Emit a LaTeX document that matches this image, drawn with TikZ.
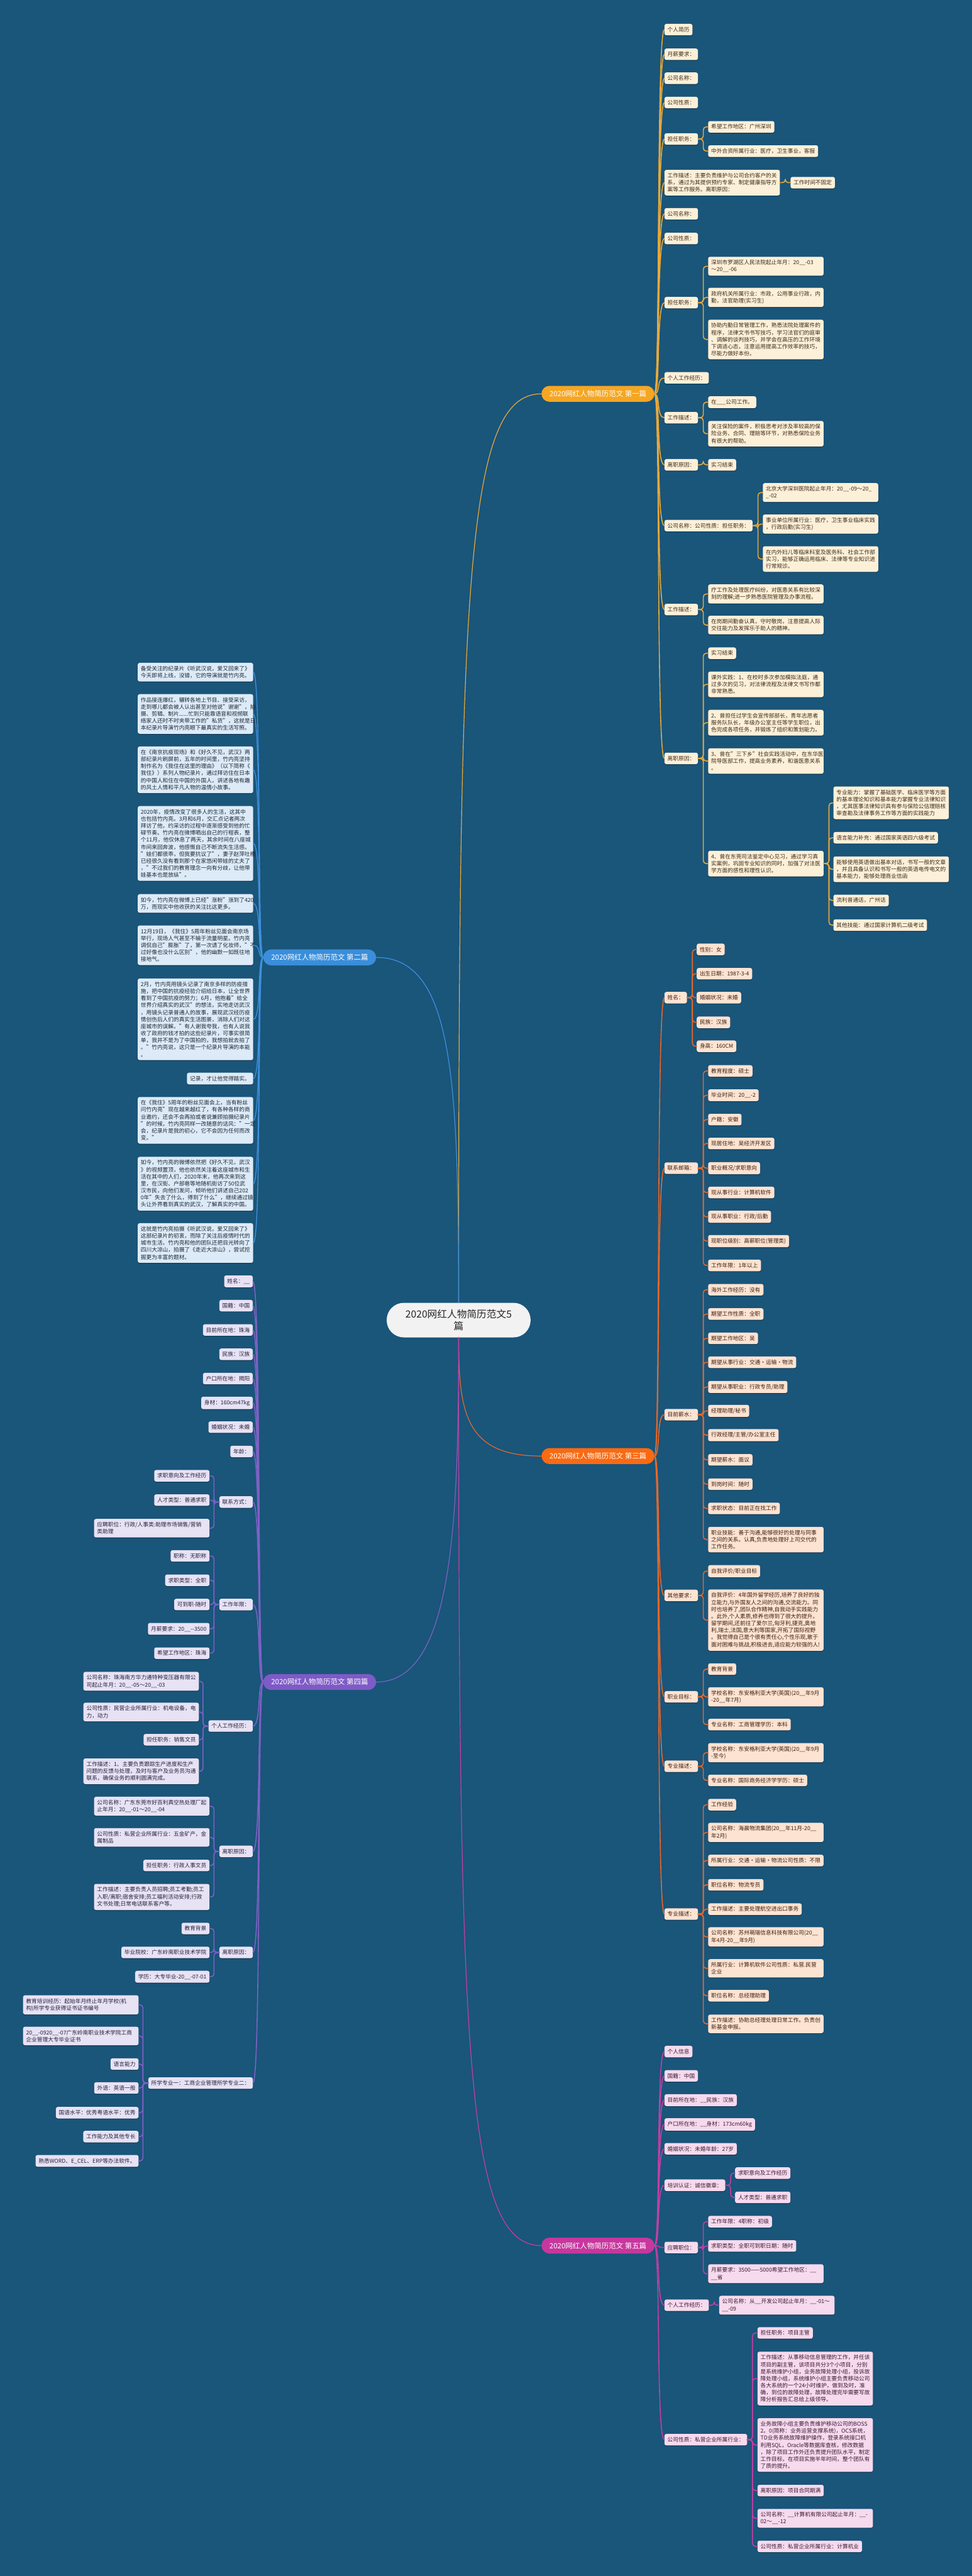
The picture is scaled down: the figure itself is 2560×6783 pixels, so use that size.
\documentclass[tikz,border=0pt]{standalone}
\usepackage{fontspec}
\setmainfont{Noto Sans CJK SC}
\usetikzlibrary{shadows}
\definecolor{bgblue}{HTML}{1A557A}
\definecolor{rootfill}{HTML}{F2F2F2}
\definecolor{onefill}{HTML}{F5A623}
\definecolor{oneline}{HTML}{E9A93A}
\definecolor{oneleaf}{HTML}{FDF0D8}
\definecolor{onetext}{HTML}{3B2A18}
\definecolor{twofill}{HTML}{3A8EDA}
\definecolor{twoline}{HTML}{3E91DD}
\definecolor{twoleaf}{HTML}{DDEBF8}
\definecolor{twotext}{HTML}{1D2733}
\definecolor{threefill}{HTML}{FA6A12}
\definecolor{threeline}{HTML}{E5682A}
\definecolor{threeleaf}{HTML}{FDE3D2}
\definecolor{threetext}{HTML}{3B1E10}
\definecolor{fourfill}{HTML}{7E5BC6}
\definecolor{fourline}{HTML}{7D62C4}
\definecolor{fourleaf}{HTML}{E7E2F4}
\definecolor{fourtext}{HTML}{24203A}
\definecolor{fivefill}{HTML}{C7379E}
\definecolor{fiveline}{HTML}{C33FA3}
\definecolor{fiveleaf}{HTML}{F6DAEE}
\definecolor{fivetext}{HTML}{3B1830}
\tikzset{
	leaf/.style={rounded corners=5pt, inner xsep=8pt, inner ysep=8.5pt, align=left, font=\fontsize{14.4}{18.5}\selectfont, drop shadow={shadow xshift=0pt, shadow yshift=-2pt, opacity=0.3, fill=black}},
	wbox/.style={text width=288pt},
	leafone/.style={leaf, fill=oneleaf, text=onetext, anchor=west},
	leaftwo/.style={leaf, fill=twoleaf, text=twotext, anchor=east},
	leafthree/.style={leaf, fill=threeleaf, text=threetext, anchor=west},
	leaffour/.style={leaf, fill=fourleaf, text=fourtext, anchor=east},
	leaffive/.style={leaf, fill=fiveleaf, text=fivetext, anchor=west},
	branch/.style={rounded corners=21pt, minimum height=42pt, inner xsep=21pt, text=white, font=\fontsize{19}{22}\selectfont},
	root/.style={fill=rootfill, rounded corners=45pt, minimum width=379pt, minimum height=91pt, align=center, text=black!85, font=\fontsize{26}{32}\selectfont},
	linkone/.style={draw=oneline, line width=2.6pt, line cap=round},
	linktwo/.style={draw=twoline, line width=2.2pt, line cap=round},
	linkthree/.style={draw=threeline, line width=2.6pt, line cap=round},
	linkfour/.style={draw=fourline, line width=2.6pt, line cap=round},
	linkfive/.style={draw=fiveline, line width=2.6pt, line cap=round},
	bracket/.style={rounded corners=8pt}
}
\begin{document}
\begin{tikzpicture}[x=1pt,y=-1pt]
	\useasboundingbox (0,0) rectangle (2560,6783);
	\fill[bgblue] (0,0) rectangle (2560,6783);

	\node[root] (root) at (1208,3476) {2020网红人物简历范文5\\篇};
	\node[branch, fill=onefill] (b1) at (1575,1037) {2020网红人物简历范文 第一篇};
	\node[branch, fill=twofill] (b2) at (842,2521) {2020网红人物简历范文 第二篇};
	\node[branch, fill=threefill] (b3) at (1575,3834) {2020网红人物简历范文 第三篇};
	\node[branch, fill=fourfill] (b4) at (842,4429) {2020网红人物简历范文 第四篇};
	\node[branch, fill=fivefill] (b5) at (1575,5913) {2020网红人物简历范文 第五篇};

	\draw[linkone, line width=2pt] (root.north) .. controls +(0,-1900) and +(-200,0) .. (b1.west);
	\draw[linktwo, line width=2pt] (root.north) .. controls +(0,-600) and +(200,0) .. (b2.east);
	\draw[linkthree, line width=2pt] (root.south) .. controls +(0,200) and +(-200,0) .. (b3.west);
	\draw[linkfour, line width=2pt] (root.south) .. controls +(0,500) and +(200,0) .. (b4.east);
	\draw[linkfive, line width=2pt] (root.south) .. controls +(0,1900) and +(-200,0) .. (b5.west);

	% 第一篇
	\node[leafone] (p1n1) at (1750,78) {个人简历};
	\node[leafone] (p1n2) at (1750,143) {月薪要求：};
	\node[leafone] (p1n3) at (1750,206) {公司名称：};
	\node[leafone] (p1n4) at (1750,270) {公司性质：};
	\node[leafone] (p1n5) at (1750,366) {担任职务：};
	\node[leafone] (p1n5a) at (1865,334) {希望工作地区：广州深圳};
	\node[leafone] (p1n5b) at (1865,398) {中外合资所属行业：医疗，卫生事业，客服};
	\node[leafone, wbox] (p1n6) at (1750,481) {工作描述：主要负责维护与公司合约客户的关\\系，通过为其提供预约专家、制定健康指导方\\案等工作服务。离职原因：};
	\node[leafone] (p1n6a) at (2082,481) {工作时间不固定};
	\node[leafone] (p1n7) at (1750,563) {公司名称：};
	\node[leafone] (p1n8) at (1750,628) {公司性质：};
	\node[leafone] (p1n9) at (1750,797) {担任职务：};
	\node[leafone, wbox] (p1n9a) at (1865,701) {深圳市罗湖区人民法院起止年月：20\_\_-03\\～20\_\_-06};
	\node[leafone, wbox] (p1n9b) at (1865,783) {政府机关所属行业：市政，公用事业行政，内\\勤，法官助理(实习生)};
	\node[leafone, wbox] (p1n9c) at (1865,894) {协助内勤日常管理工作，熟悉法院处理案件的\\程序，法律文书书写技巧，学习法官们的庭审\\、调解的谈判技巧，并学会在高压的工作环境\\下调适心态，注意运用提高工作效率的技巧，\\尽能力做好本份。};
	\node[leafone] (p1n10) at (1750,995) {个人工作经历：};
	\node[leafone] (p1n11) at (1750,1100) {工作描述：};
	\node[leafone] (p1n11a) at (1865,1059) {在\_\_\_公司工作。};
	\node[leafone, wbox] (p1n11b) at (1865,1142) {关注保险的案件，积极思考对涉及率较高的保\\险业务、合同、理赔等环节，对熟悉保险业务\\有很大的帮助。};
	\node[leafone] (p1n12) at (1750,1224) {离职原因：};
	\node[leafone] (p1n12a) at (1865,1224) {实习结束};
	\node[leafone] (p1n13) at (1750,1384) {公司名称：公司性质：担任职务：};
	\node[leafone, wbox] (p1n13a) at (2009,1297) {北京大学深圳医院起止年月：20\_\_-09～20\_\\\_-02};
	\node[leafone, wbox] (p1n13b) at (2009,1380) {事业单位所属行业：医疗，卫生事业临床实践\\，行政后勤(实习生)};
	\node[leafone, wbox] (p1n13c) at (2009,1472) {在内外妇儿等临床科室及医务科、社会工作部\\实习，能够正确运用临床、法律等专业知识进\\行常规诊。};
	\node[leafone] (p1n14) at (1750,1605) {工作描述：};
	\node[leafone, wbox] (p1n14a) at (1865,1564) {疗工作及处理医疗纠纷，对医患关系有比较深\\刻的理解;进一步熟悉医院管理及办事流程。};
	\node[leafone, wbox] (p1n14b) at (1865,1646) {在岗期间勤奋认真，守时敬岗，注意提高人际\\交往能力及发挥乐于助人的精神。};
	\node[leafone] (p1n15) at (1750,1997) {离职原因：};
	\node[leafone] (p1n15a) at (1865,1720) {实习结束};
	\node[leafone, wbox] (p1n15b) at (1865,1802) {课外实践：1、在校时多次参加模拟法庭，通\\过多次的见习，对法律流程及法律文书写作都\\非常熟悉。};
	\node[leafone, wbox] (p1n15c) at (1865,1903) {2、曾担任过学生会宣传部部长，青年志愿者\\服务队队长，年级办公室主任等学生职位，出\\色完成各项任务，并锻炼了组织和策划能力。};
	\node[leafone, wbox] (p1n15d) at (1865,2004) {3、曾在"三下乡"社会实践活动中，在东华医\\院导医部工作，提高业务素养，和谐医患关系\\。};
	\node[leafone, wbox] (p1n15e) at (1865,2274) {4、曾在东莞司法鉴定中心见习，通过学习真\\实案例，巩固专业知识的同时，加强了对法医\\学方面的感性和理性认识。};
	\node[leafone, wbox] (p1n15e1) at (2195,2114) {专业能力：掌握了基础医学、临床医学等方面\\的基本理论知识和基本能力掌握专业法律知识\\，尤其医事法律知识具有参与保险公估理赔核\\审查勘及法律事务工作等方面的实践能力};
	\node[leafone] (p1n15e2) at (2195,2206) {语言能力补充：通过国家英语四六级考试};
	\node[leafone, wbox] (p1n15e3) at (2195,2289) {能够使用英语做出基本对话，书写一般的文章\\，并且具备认识和书写一般的英语电传电文的\\基本能力，能够处理商业信函};
	\node[leafone] (p1n15e4) at (2195,2371) {流利普通话，广州话};
	\node[leafone] (p1n15e5) at (2195,2436) {其他技能：通过国家计算机二级考试};

	\foreach \k in {p1n1,p1n2,p1n3,p1n4,p1n5,p1n6,p1n7,p1n8,p1n9,p1n10,p1n11,p1n12,p1n13,p1n14,p1n15}
		\draw[linkone] (b1.east) .. controls +(16,0) and +(-22,0) .. (\k.west);
	\foreach \p/\k in {p1n5/p1n5a,p1n5/p1n5b,p1n6/p1n6a,p1n9/p1n9a,p1n9/p1n9b,p1n9/p1n9c,p1n11/p1n11a,p1n11/p1n11b,p1n12/p1n12a,p1n13/p1n13a,p1n13/p1n13b,p1n13/p1n13c,p1n14/p1n14a,p1n14/p1n14b,p1n15/p1n15a,p1n15/p1n15b,p1n15/p1n15c,p1n15/p1n15d,p1n15/p1n15e,p1n15e/p1n15e1,p1n15e/p1n15e2,p1n15e/p1n15e3,p1n15e/p1n15e4,p1n15e/p1n15e5}
		\draw[linkone, bracket] (\p.east) -- ++(14,0) |- (\k.west);

	% 第二篇
	\node[leaftwo, wbox] (p2n1) at (667,1770) {备受关注的纪录片《听武汉说，爱又回来了》\\今天即将上线，没错，它的导演就是竹内亮。};
	\node[leaftwo, wbox] (p2n2) at (667,1880) {作品接连爆红，辗转各地上节目、接受采访，\\走到哪儿都会被人认出甚至对他说"谢谢"，拍\\摄、剪辑、制片......忙到只能靠语音和视频联\\络家人还时不时夹带工作的"私货"，这就是日\\本纪录片导演竹内亮眼下最真实的生活写照。};
	\node[leaftwo, wbox] (p2n3) at (667,2027) {在《南京抗疫现场》和《好久不见，武汉》两\\部纪录片刷屏前，五年的时间里，竹内亮坚持\\制作名为《我住在这里的理由》（以下简称《\\我住》）系列人物纪录片，通过拜访住在日本\\的中国人和住在中国的外国人，讲述各地有趣\\的风土人情和平凡人物的温情小故事。};
	\node[leaftwo, wbox] (p2n4) at (667,2221) {2020年，疫情改变了很多人的生活，这其中\\也包括竹内亮。3月和6月，交汇点记者两次\\拜访了他，约采访的过程中逐渐感受到他的忙\\碌节奏。竹内亮在微博晒出自己的行程表，整\\个11月，他仅休息了两天，其余时间在八座城\\市间来回奔波，他感慨自己不断流失生活感。\\"娃们都很乖，但我要抗议了"，妻子赵萍吐槽\\已经很久没有看到那个在家悠闲带娃的丈夫了\\，"不过我们的教育理念一向有分歧，让他带\\娃基本也是放纵"。};
	\node[leaftwo, wbox] (p2n5) at (667,2379) {如今，竹内亮在微博上已经"涨粉"涨到了420\\万，而现实中他收获的关注比这更多。};
	\node[leaftwo, wbox] (p2n6) at (667,2489) {12月19日，《我住》5周年粉丝见面会南京场\\举行，现场人气甚至不输于流量明星。竹内亮\\调侃自己"膨胀"了，第一次请了化妆师，"不\\过好像也没什么区别"，他的幽默一如既往地\\接地气。};
	\node[leaftwo, wbox] (p2n7) at (667,2684) {2月，竹内亮用镜头记录了南京多样的防疫措\\施，把中国的抗疫经验介绍给日本，让全世界\\看到了中国抗疫的努力；6月，他抱着"给全\\世界介绍真实的武汉"的想法，实地走访武汉\\，用镜头记录普通人的故事，展现武汉经历疫\\情创伤后人们的真实生活图景，消除人们对这\\座城市的误解。"有人谢我夸我，也有人说我\\收了政府的钱才拍的这些纪录片，可事实很简\\单，我并不是为了中国拍的，我想拍就去拍了\\。"竹内亮说，这只是一个纪录片导演的本能\\。};
	\node[leaftwo] (p2n8) at (667,2840) {记录，才让他觉得踏实。};
	\node[leaftwo, wbox] (p2n9) at (667,2950) {在《我住》5周年的粉丝见面会上，当有粉丝\\问竹内亮"现在越来越红了，有各种各样的商\\业邀约，还会不会再拍或者说兼顾拍摄纪录片\\"的时候，竹内亮同样一改随意的话风："一定\\会，纪录片是我的初心，它不会因为任何而改\\变。"};
	\node[leaftwo, wbox] (p2n10) at (667,3117) {如今，竹内亮的微博依然把《好久不见，武汉\\》的视频置顶，他也依然关注着这座城市和生\\活在其中的人们，2020年末，他再次来到这\\里，在汉街、户部巷等地随机街访了50位武\\汉市民，向他们发问，倾听他们讲述自己202\\0年"失去了什么，得到了什么"，继续通过镜\\头让外界看到真实的武汉，了解真实的中国。};
	\node[leaftwo, wbox] (p2n11) at (667,3273) {这就是竹内亮拍摄《听武汉说，爱又回来了》\\这部纪录片的初衷，而除了关注后疫情时代的\\城市生活，竹内亮和他的团队还把目光转向了\\四川大凉山，拍摄了《走近大凉山》，尝试挖\\掘更为丰富的题材。};

	\foreach \k in {p2n1,p2n2,p2n3,p2n4,p2n5,p2n6,p2n7,p2n8,p2n9,p2n10,p2n11}
		\draw[linktwo] (b2.west) .. controls +(-16,0) and +(22,0) .. (\k.east);

	% 第三篇
	\node[leafthree] (p3n1) at (1750,2627) {姓名：};
	\node[leafthree] (p3n1a) at (1835,2500) {性别：女};
	\node[leafthree] (p3n1b) at (1835,2564) {出生日期：1987-3-4};
	\node[leafthree] (p3n1c) at (1835,2627) {婚姻状况：未婚};
	\node[leafthree] (p3n1d) at (1835,2692) {民族：汉族};
	\node[leafthree] (p3n1e) at (1835,2755) {身高：160CM};
	\node[leafthree] (p3n2) at (1750,3076) {联系邮箱：};
	\node[leafthree] (p3n2a) at (1865,2820) {教育程度：硕士};
	\node[leafthree] (p3n2b) at (1865,2884) {毕业时间：20\_\_-2};
	\node[leafthree] (p3n2c) at (1865,2948) {户籍：安徽};
	\node[leafthree] (p3n2d) at (1865,3011) {现居住地：吴经济开发区};
	\node[leafthree] (p3n2e) at (1865,3076) {职业概况/求职意向};
	\node[leafthree] (p3n2f) at (1865,3140) {现从事行业：计算机软件};
	\node[leafthree] (p3n2g) at (1865,3204) {现从事职业：行政/后勤};
	\node[leafthree] (p3n2h) at (1865,3268) {现职位级别：高薪职位(管理类)};
	\node[leafthree] (p3n2i) at (1865,3332) {工作年限：1年以上};
	\node[leafthree] (p3n3) at (1750,3725) {目前薪水：};
	\node[leafthree] (p3n3a) at (1865,3396) {海外工作经历：没有};
	\node[leafthree] (p3n3b) at (1865,3460) {期望工作性质：全职};
	\node[leafthree] (p3n3c) at (1865,3524) {期望工作地区：吴};
	\node[leafthree] (p3n3d) at (1865,3587) {期望从事行业：交通·运输·物流};
	\node[leafthree] (p3n3e) at (1865,3652) {期望从事职业：行政专员/助理};
	\node[leafthree] (p3n3f) at (1865,3715) {经理助理/秘书};
	\node[leafthree] (p3n3g) at (1865,3779) {行政经理/主管/办公室主任};
	\node[leafthree] (p3n3h) at (1865,3844) {期望薪水：面议};
	\node[leafthree] (p3n3i) at (1865,3908) {到岗时间：随时};
	\node[leafthree] (p3n3j) at (1865,3972) {求职状态：目前正在找工作};
	\node[leafthree, wbox] (p3n3k) at (1865,4054) {职业技能：善于沟通,能够很好的处理与同事\\之间的关系。认真,负责地处理好上司交代的\\工作任务。};
	\node[leafthree] (p3n4) at (1750,4201) {其他要求：};
	\node[leafthree] (p3n4a) at (1865,4137) {自我评价/职业目标};
	\node[leafthree, wbox] (p3n4b) at (1865,4266) {自我评价：4年国外留学经历,培养了良好的独\\立能力,与外国友人之间的沟通,交流能力。同\\时也培养了,团队合作精神,自我动手实践能力\\。此外,个人素质,修养也得到了很大的提升。\\留学期间,还前往了爱尔兰,匈牙利,捷克,奥地\\利,瑞士,法国,意大利等国家,开拓了国际视野\\。我觉得自己是个很有责任心,个性乐观,敢于\\面对困难与挑战,积极进去,适应能力较强的人!};
	\node[leafthree] (p3n5) at (1750,4468) {职业目标：};
	\node[leafthree] (p3n5a) at (1865,4395) {教育背景};
	\node[leafthree, wbox] (p3n5b) at (1865,4468) {学校名称：东安格利亚大学(英国)(20\_\_年9月\\-20\_\_年7月)};
	\node[leafthree] (p3n5c) at (1865,4541) {专业名称：工商管理学历：本科};
	\node[leafthree] (p3n6) at (1750,4651) {专业描述：};
	\node[leafthree, wbox] (p3n6a) at (1865,4615) {学校名称：东安格利亚大学(英国)(20\_\_年9月\\-至今)};
	\node[leafthree] (p3n6b) at (1865,4688) {专业名称：国际商务经济学学历：硕士};
	\node[leafthree] (p3n7) at (1750,5040) {专业描述：};
	\node[leafthree] (p3n7a) at (1865,4752) {工作经验};
	\node[leafthree, wbox] (p3n7b) at (1865,4825) {公司名称：海晨物流集团(20\_\_年11月-20\_\_\\年2月)};
	\node[leafthree] (p3n7c) at (1865,4899) {所属行业：交通·运输·物流公司性质：不限};
	\node[leafthree] (p3n7d) at (1865,4963) {职位名称：物流专员};
	\node[leafthree] (p3n7e) at (1865,5027) {工作描述：主要处理航空进出口事务};
	\node[leafthree, wbox] (p3n7f) at (1865,5100) {公司名称：苏州萌瑞信息科技有限公司(20\_\_\\年4月-20\_\_年9月)};
	\node[leafthree, wbox] (p3n7g) at (1865,5183) {所属行业：计算机软件公司性质：私营.民营\\企业};
	\node[leafthree] (p3n7h) at (1865,5255) {职位名称：总经理助理};
	\node[leafthree, wbox] (p3n7i) at (1865,5329) {工作描述：协助总经理处理日常工作。负责创\\新基金申报。};

	\foreach \k in {p3n1,p3n2,p3n3,p3n4,p3n5,p3n6,p3n7}
		\draw[linkthree] (b3.east) .. controls +(16,0) and +(-22,0) .. (\k.west);
	\foreach \p/\k in {p3n1/p3n1a,p3n1/p3n1b,p3n1/p3n1c,p3n1/p3n1d,p3n1/p3n1e,p3n2/p3n2a,p3n2/p3n2b,p3n2/p3n2c,p3n2/p3n2d,p3n2/p3n2e,p3n2/p3n2f,p3n2/p3n2g,p3n2/p3n2h,p3n2/p3n2i,p3n3/p3n3a,p3n3/p3n3b,p3n3/p3n3c,p3n3/p3n3d,p3n3/p3n3e,p3n3/p3n3f,p3n3/p3n3g,p3n3/p3n3h,p3n3/p3n3i,p3n3/p3n3j,p3n3/p3n3k,p3n4/p3n4a,p3n4/p3n4b,p3n5/p3n5a,p3n5/p3n5b,p3n5/p3n5c,p3n6/p3n6a,p3n6/p3n6b,p3n7/p3n7a,p3n7/p3n7b,p3n7/p3n7c,p3n7/p3n7d,p3n7/p3n7e,p3n7/p3n7f,p3n7/p3n7g,p3n7/p3n7h,p3n7/p3n7i}
		\draw[linkthree, bracket] (\p.east) -- ++(14,0) |- (\k.west);

	% 第四篇
	\node[leaffour] (p4n1) at (666,3374) {姓名：\_\_};
	\node[leaffour] (p4n2) at (666,3438) {国籍：中国};
	\node[leaffour] (p4n3) at (666,3502) {目前所在地：珠海};
	\node[leaffour] (p4n4) at (666,3566) {民族：汉族};
	\node[leaffour] (p4n5) at (666,3630) {户口所在地：揭阳};
	\node[leaffour] (p4n6) at (666,3694) {身材：160cm47kg};
	\node[leaffour] (p4n7) at (666,3758) {婚姻状况：未婚};
	\node[leaffour] (p4n8) at (666,3822) {年龄：};
	\node[leaffour] (p4n9) at (666,3955) {联系方式：};
	\node[leaffour] (p4n9a) at (552,3886) {求职意向及工作经历};
	\node[leaffour] (p4n9b) at (552,3950) {人才类型：普通求职};
	\node[leaffour, wbox] (p4n9c) at (552,4024) {应聘职位：行政/人事类:助理市场销售/营销\\类助理};
	\node[leaffour] (p4n10) at (666,4225) {工作年限：};
	\node[leaffour] (p4n10a) at (552,4097) {职称：无职称};
	\node[leaffour] (p4n10b) at (552,4161) {求职类型：全职};
	\node[leaffour] (p4n10c) at (552,4225) {可到职-随时};
	\node[leaffour] (p4n10d) at (552,4289) {月薪要求：20\_\_-{}-3500};
	\node[leaffour] (p4n10e) at (552,4353) {希望工作地区：珠海};
	\node[leaffour] (p4n11) at (666,4545) {个人工作经历：};
	\node[leaffour, wbox] (p4n11a) at (524,4427) {公司名称：珠海南方华力通特种变压器有限公\\司起止年月：20\_\_-05～20\_\_-03};
	\node[leaffour, wbox] (p4n11b) at (524,4508) {公司性质：民营企业所属行业：机电设备，电\\力，动力};
	\node[leaffour] (p4n11c) at (524,4581) {担任职务：销售文员};
	\node[leaffour, wbox] (p4n11d) at (524,4664) {工作描述：1、主要负责跟踪生产进度和生产\\问题的反馈与处理，及时与客户及业务员沟通\\联系，确保业务的顺利圆满完成。};
	\node[leaffour] (p4n12) at (666,4875) {离职原因：};
	\node[leaffour, wbox] (p4n12a) at (552,4756) {公司名称：广东东莞市好百利真空热处理厂起\\止年月：20\_\_-01～20\_\_-04};
	\node[leaffour, wbox] (p4n12b) at (552,4838) {公司性质：私营企业所属行业：五金矿产，金\\属制品};
	\node[leaffour] (p4n12c) at (552,4912) {担任职务：行政人事文员};
	\node[leaffour, wbox] (p4n12d) at (552,4995) {工作描述：主要负责人员招聘;员工考勤;员工\\入职/离职;宿舍安排;员工福利活动安排;行政\\文书处理;日常电话联系客户等。};
	\node[leaffour] (p4n13) at (666,5141) {离职原因：};
	\node[leaffour] (p4n13a) at (552,5078) {教育背景};
	\node[leaffour] (p4n13b) at (552,5141) {毕业院校：广东岭南职业技术学院};
	\node[leaffour] (p4n13c) at (552,5205) {学历：大专毕业-20\_\_-07-01};
	\node[leaffour] (p4n14) at (666,5485) {所学专业一：工商企业管理所学专业二：};
	\node[leaffour, wbox] (p4n14a) at (365,5279) {教育培训经历：起始年月终止年月学校(机\\构)所学专业获得证书证书编号};
	\node[leaffour, wbox] (p4n14b) at (365,5361) {20\_\_-0920\_\_-07广东岭南职业技术学院工商\\企业管理大专毕业证书};
	\node[leaffour] (p4n14c) at (365,5435) {语言能力};
	\node[leaffour] (p4n14d) at (365,5498) {外语：英语一般};
	\node[leaffour] (p4n14e) at (365,5563) {国语水平：优秀粤语水平：优秀};
	\node[leaffour] (p4n14f) at (365,5626) {工作能力及其他专长};
	\node[leaffour] (p4n14g) at (365,5690) {熟悉WORD、E\_CEL、ERP等办法软件。};

	\foreach \k in {p4n1,p4n2,p4n3,p4n4,p4n5,p4n6,p4n7,p4n8,p4n9,p4n10,p4n11,p4n12,p4n13,p4n14}
		\draw[linkfour] (b4.west) .. controls +(-16,0) and +(22,0) .. (\k.east);
	\foreach \p/\k in {p4n9/p4n9a,p4n9/p4n9b,p4n9/p4n9c,p4n10/p4n10a,p4n10/p4n10b,p4n10/p4n10c,p4n10/p4n10d,p4n10/p4n10e,p4n11/p4n11a,p4n11/p4n11b,p4n11/p4n11c,p4n11/p4n11d,p4n12/p4n12a,p4n12/p4n12b,p4n12/p4n12c,p4n12/p4n12d,p4n13/p4n13a,p4n13/p4n13b,p4n13/p4n13c,p4n14/p4n14a,p4n14/p4n14b,p4n14/p4n14c,p4n14/p4n14d,p4n14/p4n14e,p4n14/p4n14f,p4n14/p4n14g}
		\draw[linkfour, bracket] (\p.west) -- ++(-14,0) |- (\k.east);

	% 第五篇
	\node[leaffive] (p5n1) at (1750,5402) {个人信息};
	\node[leaffive] (p5n2) at (1750,5466) {国籍：中国};
	\node[leaffive] (p5n3) at (1750,5530) {目前所在地：\_\_民族：汉族};
	\node[leaffive] (p5n4) at (1750,5594) {户口所在地：\_\_身材：173cm60kg};
	\node[leaffive] (p5n5) at (1750,5658) {婚姻状况：未婚年龄：27岁};
	\node[leaffive] (p5n6) at (1750,5754) {培训认证：诚信徽章：};
	\node[leaffive] (p5n6a) at (1936,5722) {求职意向及工作经历};
	\node[leaffive] (p5n6b) at (1936,5786) {人才类型：普通求职};
	\node[leaffive] (p5n7) at (1750,5918) {应聘职位：};
	\node[leaffive] (p5n7a) at (1865,5850) {工作年限：4职称：初级};
	\node[leaffive] (p5n7b) at (1865,5914) {求职类型：全职可到职日期：随时};
	\node[leaffive, wbox] (p5n7c) at (1865,5987) {月薪要求：3500——5000希望工作地区：\_\_\\\_\_省};
	\node[leaffive] (p5n8) at (1750,6070) {个人工作经历：};
	\node[leaffive, wbox] (p5n8a) at (1894,6070) {公司名称：从\_\_开发公司起止年月：\_\_-01～\\\_\_-09};
	\node[leaffive] (p5n9) at (1750,6424) {公司性质：私营企业所属行业：};
	\node[leaffive] (p5n9a) at (1995,6143) {担任职务：项目主管};
	\node[leaffive, wbox] (p5n9b) at (1995,6263) {工作描述：从事移动信息管理的工作，并任该\\项目的副主管，该项目共分3个小项目，分别\\是系统维护小组，业务故障处理小组，投诉故\\障处理小组，系统维护小组主要负责移动公司\\各大系统的一个24小时维护，做到及时，准\\确，到位的故障处理，故障处理完毕需要写故\\障分析报告汇总给上级领导。};
	\node[leaffive, wbox] (p5n9c) at (1995,6438) {业务故障小组主要负责维护移动公司的BOSS\\2。0(简称：业务运营支撑系统)，OCS系统，\\TD业务系统故障维护操作，登录系统接口机\\利用SQL，Oracle等数据库查核，修改数据\\，除了项目工作外还负责提升团队水平，制定\\工作目标，在项目实施半年时间，整个团队有\\了质的提升。};
	\node[leaffive] (p5n9d) at (1995,6558) {离职原因：项目合同期满};
	\node[leaffive, wbox] (p5n9e) at (1995,6631) {公司名称：\_\_计算机有限公司起止年月：\_\_-\\02～\_\_-12};
	\node[leaffive] (p5n9f) at (1995,6705) {公司性质：私营企业所属行业：计算机业};

	\foreach \k in {p5n1,p5n2,p5n3,p5n4,p5n5,p5n6,p5n7,p5n8,p5n9}
		\draw[linkfive] (b5.east) .. controls +(16,0) and +(-22,0) .. (\k.west);
	\foreach \p/\k in {p5n6/p5n6a,p5n6/p5n6b,p5n7/p5n7a,p5n7/p5n7b,p5n7/p5n7c,p5n8/p5n8a,p5n9/p5n9a,p5n9/p5n9b,p5n9/p5n9c,p5n9/p5n9d,p5n9/p5n9e,p5n9/p5n9f}
		\draw[linkfive, bracket] (\p.east) -- ++(14,0) |- (\k.west);
\end{tikzpicture}
\end{document}
